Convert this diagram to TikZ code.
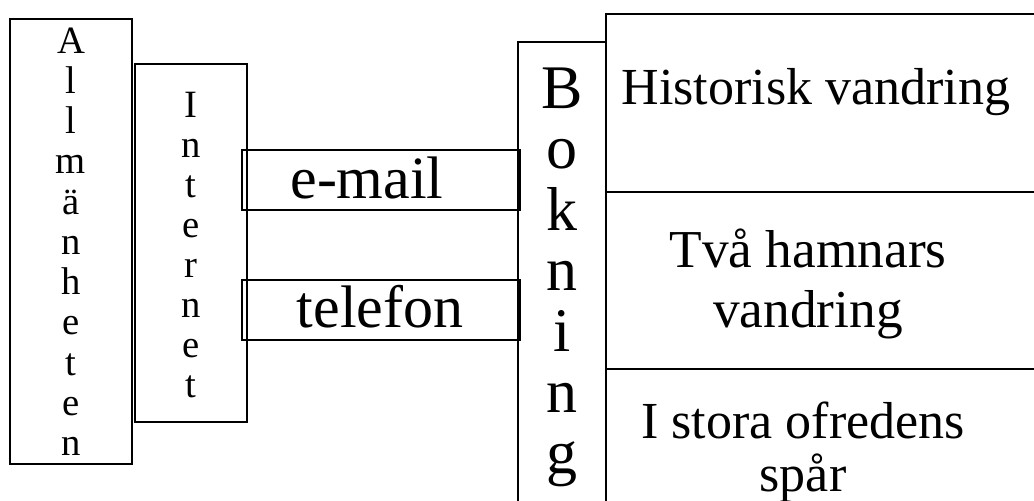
\documentclass[tikz,border=0pt]{standalone}
\usepackage{fontspec}
\setmainfont{Liberation Serif}
\usetikzlibrary{fit}
% a centred column of lines: font size, line pitch, lines
\newcommand{\labeltab}[3]{\fontsize{#1}{#2}\selectfont\begin{tabular}[t]{@{}c@{}}#3\end{tabular}}
\begin{document}
\begin{tikzpicture}[x=0.75pt,y=-0.75pt,
  box/.style={draw=black,line width=1.5pt,inner sep=0pt,rectangle},
  heavybox/.style={box,line width=2.2pt},
  lbl/.style={anchor=base,inner sep=0pt,text=black}]
\path[use as bounding box] (0,0) rectangle (1034,500);
\clip (0,0) rectangle (1034,500);

% frames
\node[box,fit={(10,19) (132,464)}] (allm) {};
\node[box,fit={(135,64) (247,422)}] (inet) {};
\node[box,fit={(242,150) (520,210)}] (email) {};
\node[box,fit={(242,280) (520,340)}] (tel) {};
\node[box,fit={(518,42) (606,520)}] (bok) {};
\node[box,fit={(606,14) (1050,192)}] (hist) {};
\node[heavybox,fit={(606,192) (1050,369)}] (tva) {};
\node[heavybox,fit={(606,369) (1050,520)}] (ofred) {};

% texts
\node[lbl] (allmtext) at (71,53)
  {\labeltab{29}{30.2}{A\\l\\l\\m\\ä\\n\\h\\e\\t\\e\\n}};
\node[lbl] (inettext) at (191,117)
  {\labeltab{29}{30.1}{I\\n\\t\\e\\r\\n\\e\\t}};
\node[lbl] (emailtext) at (367,198) {\fontsize{45}{50}\selectfont e-mail};
\node[lbl] (teltext) at (380,327) {\fontsize{45}{50}\selectfont telefon};
\node[lbl] (boktext) at (562,108)
  {\labeltab{46.5}{45.6}{B\\o\\k\\n\\i\\n\\g}};
\node[lbl] (histtext) at (816,104) {\fontsize{39}{45}\selectfont Historisk vandring};
\node[lbl] (tvatext) at (808,267) {\labeltab{40}{45}{Två hamnars\\vandring}};
\node[lbl] (ofredtext) at (803,438) {\labeltab{39}{39}{I stora ofredens\\spår}};
\end{tikzpicture}
\end{document}
